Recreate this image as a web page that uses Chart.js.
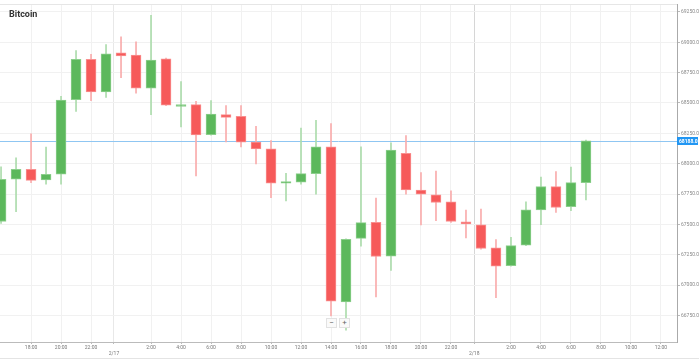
<!DOCTYPE html>
<html>
<head>
<meta charset="utf-8">
<script src="https://cdn.jsdelivr.net/npm/chart.js@4.4.1/dist/chart.umd.min.js"></script>
<style>
body { margin: 0; background: #fff; }
#wrap { position: relative; width: 699px; height: 358px; border-bottom: 1px solid #e4e4e4; }
.zb { position: absolute; top: 318px; width: 9px; height: 8px; font: 8px/8px Roboto, sans-serif; color: #666;
      text-align: center; background: #fafafa; border: 1px solid #e2e2e2; }
</style>
</head>
<body>
<div id="wrap">
  <canvas id="myChart"></canvas>
  <div class="zb" style="left:326px">−</div><div class="zb" style="left:339px">+</div>
</div>
<script>
// hours counted from 2/16 00:00
var hours = [16, 17, 18, 19, 20, 21, 22, 23, 24, 25, 26, 27, 28, 29, 30, 31, 32, 33, 34, 35,
             36, 37, 38, 39, 40, 41, 42, 43, 44, 45, 46, 47, 48, 49, 50, 51, 52, 53, 54, 55];
var open  = [67524, 67872, 67954, 67866, 67913, 68527, 68859, 68592, 68914, 68895, 68622, 68863, 68472, 68486, 68240, 68404, 68390, 68177, 68122, 67839,
             67847, 67918, 68139, 66861, 67385, 67516, 67238, 68085, 67782, 67743, 67686, 67522, 67497, 67306, 67159, 67328, 67620, 67811, 67645, 67844];
var high  = [67975, 68049, 68245, 68136, 68554, 68931, 68900, 68982, 69045, 69004, 69223, 68870, 68677, 68513, 68519, 68478, 68478, 68308, 68191, 67921,
             68294, 68357, 68330, 67380, 68139, 67716, 68171, 68232, 67926, 67940, 67776, 67618, 67626, 67374, 67393, 67686, 67890, 67934, 67972, 68195];
var low   = [67508, 67604, 67844, 67831, 67831, 68431, 68519, 68546, 68709, 68581, 68404, 68478, 68302, 67899, 68235, 68180, 68139, 67999, 67721, 67694,
             67831, 67749, 66746, 66629, 67320, 66902, 67121, 67749, 67495, 67530, 67516, 67388, 67296, 66897, 67155, 67325, 67497, 67598, 67612, 67702];
var close = [67872, 67954, 67863, 67913, 68524, 68859, 68592, 68904, 68887, 68622, 68854, 68483, 68486, 68237, 68409, 68382, 68177, 68122, 67839, 67852,
             67918, 68139, 66867, 67377, 67514, 67235, 68112, 67784, 67749, 67680, 67524, 67503, 67301, 67156, 67325, 67620, 67811, 67639, 67844, 68188];

var hourTicks = [18, 20, 22, 26, 28, 30, 32, 34, 36, 38, 40, 42, 44, 46, 50, 52, 54, 56, 58, 60];
var dateTickPos = [23.53, 47.55];
var dateTickLabels = ['2/17', '2/18'];
var yTicks = [66750, 67000, 67250, 67500, 67750, 68000, 68250, 68500, 68750, 69000, 69250];
var xMin = 15.93, xMax = 61.07;
var yMin = 66531, yMax = 69315.5;

var up = '#5cb85c', down = '#f65a5a';
var lastPrice = close[close.length - 1];

Chart.defaults.font.family = 'Roboto, sans-serif';

var extras = {
    id: 'extras',
    beforeDatasetsDraw: function (chart) {
        var ctx = chart.ctx, a = chart.chartArea;
        var py = Math.round(chart.scales.y.getPixelForValue(lastPrice)) + 0.5;
        ctx.save();
        ctx.lineWidth = 1;
        ctx.strokeStyle = '#e6e6e6';
        ctx.beginPath();
        ctx.moveTo(a.left, a.top + 0.5);
        ctx.lineTo(a.right, a.top + 0.5);
        ctx.stroke();
        ctx.strokeStyle = '#8fc6f2';
        ctx.beginPath();
        ctx.moveTo(a.left, py);
        ctx.lineTo(a.right, py);
        ctx.stroke();
        ctx.restore();
    },
    afterDraw: function (chart) {
        var ctx = chart.ctx, a = chart.chartArea;
        var py = Math.round(chart.scales.y.getPixelForValue(lastPrice));
        ctx.save();
        ctx.fillStyle = '#333';
        ctx.font = 'bold 9px Roboto, sans-serif';
        ctx.textBaseline = 'alphabetic';
        ctx.fillText('Bitcoin', 9, 17);
        ctx.fillStyle = '#2196f3';
        ctx.fillRect(a.right, py - 4, 21, 8);
        ctx.fillStyle = '#fff';
        ctx.font = 'bold 5px Roboto, sans-serif';
        ctx.textBaseline = 'middle';
        ctx.fillText(lastPrice.toFixed(1), a.right + 2, py + 0.5);
        ctx.restore();
    }
};

var ctx = document.getElementById('myChart').getContext('2d');
var myChart = new Chart(ctx, {
    type: 'bar',
    data: {
        datasets: [{
            label: 'body',
            data: hours.map(function (h, i) { return {x: h, y: [open[i], close[i]]}; }),
            backgroundColor: close.map(function (c, i) { return c >= open[i] ? up : down; }),
            borderColor: close.map(function (c, i) { return c >= open[i] ? '#8ccf8c' : '#f99090'; }),
            borderWidth: 1,
            borderSkipped: false,
            barThickness: 10,
            grouped: false,
            order: 1
        }, {
            label: 'wick',
            data: hours.map(function (h, i) { return {x: h, y: [low[i], high[i]]}; }),
            backgroundColor: close.map(function (c, i) { return c >= open[i] ? '#acdcac' : '#f9acac'; }),
            barThickness: 1,
            grouped: false,
            order: 2
        }]
    },
    options: {
        responsive: true,
        maintainAspectRatio: false,
        animation: false,
        layout: { padding: { top: 2, left: 0, right: 0, bottom: 0 } },
        plugins: {
            legend: { display: false },
            tooltip: { enabled: false }
        },
        scales: {
            x: {
                type: 'linear',
                min: xMin,
                max: xMax,
                offset: false,
                afterBuildTicks: function (scale) {
                    scale.ticks = hourTicks.concat(dateTickPos).sort(function (a, b) { return a - b; })
                        .map(function (v) { return {value: v}; });
                },
                afterFit: function (scale) { scale.height = 16; },
                ticks: {
                    autoSkip: false,
                    maxRotation: 0,
                    padding: 0,
                    color: '#777',
                    font: { size: 5, lineHeight: 1.3 },
                    callback: function (value) {
                        var d = dateTickPos.indexOf(value);
                        if (d >= 0) return ['', dateTickLabels[d]];
                        return (value % 24) + ':00';
                    }
                },
                grid: {
                    offset: false,
                    tickLength: 2,
                    tickColor: '#bbb',
                    color: function (c) {
                        if (c.tick && c.tick.value === dateTickPos[1]) return '#d6d6d6';
                        if (c.tick && c.tick.value === dateTickPos[0]) return '#e8e8e8';
                        return '#f1f1f1';
                    }
                },
                border: { color: '#bbb' }
            },
            y: {
                position: 'right',
                min: yMin,
                max: yMax,
                afterBuildTicks: function (scale) {
                    scale.ticks = yTicks.map(function (v) { return {value: v}; });
                },
                afterFit: function (scale) { scale.width = 22; },
                ticks: {
                    padding: 1,
                    color: '#888',
                    font: { size: 5 },
                    callback: function (v) { return v.toFixed(1); }
                },
                grid: { color: '#f1f1f1', tickColor: '#bbb', tickLength: 3 },
                border: { color: '#aaa' }
            }
        }
    },
    plugins: [extras]
});
</script>
</body>
</html>
